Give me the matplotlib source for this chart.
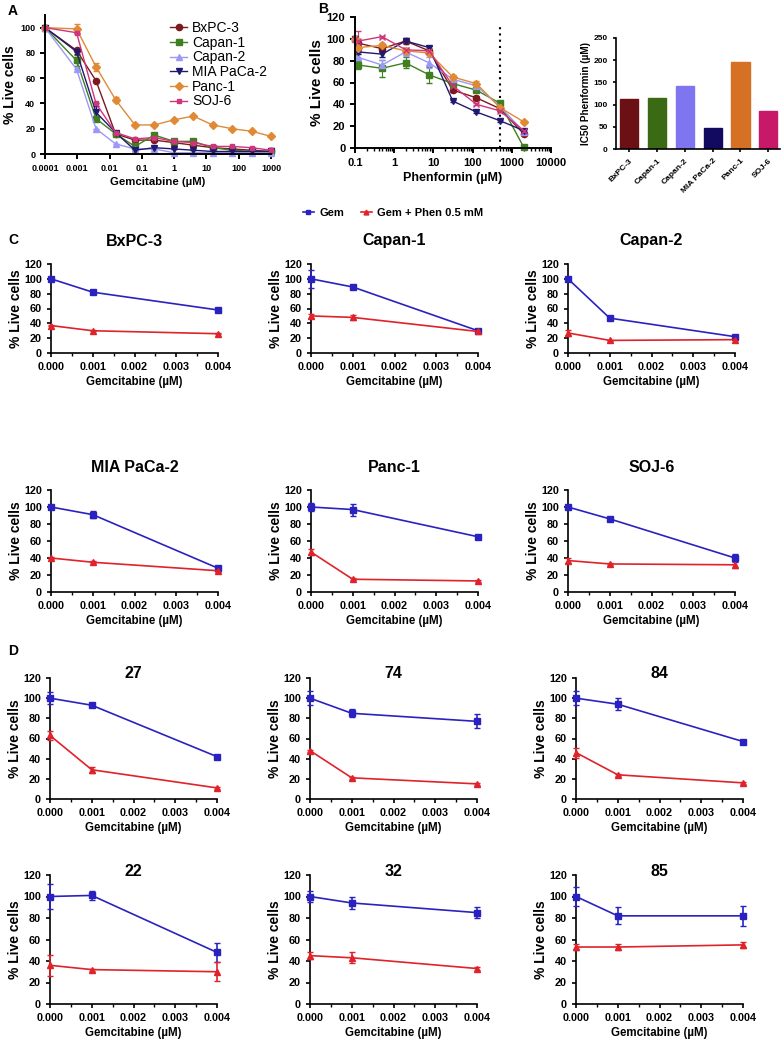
import matplotlib
matplotlib.use("Agg")
import matplotlib.pyplot as plt
import numpy as np
from matplotlib.ticker import FixedLocator, NullFormatter, LogLocator
from matplotlib.lines import Line2D

W, H = 784, 1041
fig = plt.figure(figsize=(W/100, H/100), dpi=100)
plt.rcParams['font.family'] = ['Liberation Sans', 'DejaVu Sans']
NARROW = ['Liberation Sans Narrow', 'Liberation Sans', 'DejaVu Sans']

# ---------------- data ----------------
lines = ["BxPC-3", "Capan-1", "Capan-2", "MIA PaCa-2", "Panc-1", "SOJ-6"]
line_colors = ["#7B1A1E", "#3F7F1F", "#9C98F8", "#1F1A70", "#E08A36", "#D0357B"]
bar_colors = ["#6B1014", "#3A6A14", "#8075F0", "#110A60", "#D57025", "#C8186A"]
markers_a = ["o", "s", "^", "v", "D", "s"]
markers_b = ["o", "s", "^", "v", "D", "x"]

gem_conc_a = [0.0001, 0.00095, 0.0038, 0.0153, 0.061, 0.244, 0.98, 3.9, 15.6, 62.5, 250, 1000]
a_bxpc3 = [100, 82, 58, 16, 11, 11, 9, 7, 5, 4, 3, 2]
a_capan1 = [100, 74, 28, 16, 6, 15, 10, 10, 5, 3, 2, 2]
a_capan2 = [100, 67, 20, 8, 4, 4, 1, 1, 1, 1, 1, 1]
a_mia = [100, 81, 33, 17, 3, 5, 4, 3, 2, 2, 2, 2]
a_panc1 = [100, 99, 69, 43, 23, 23, 27, 30, 23, 20, 18, 14]
a_soj6 = [100, 96, 40, 17, 12, 13, 10, 9, 6, 6, 5, 3]
a_err_capan1 = [0, 4, 2, 1, 1, 1, 1, 1, 0, 0, 0, 0]
a_err_mia = [0, 2, 5, 1, 1, 1, 0, 0, 0, 0, 0, 0]
a_err_panc1 = [0, 4, 3, 2, 1, 0, 0, 0, 0, 0, 0, 0]
a_err_zero = [0] * 12

phen_conc = [0.1, 0.122, 0.49, 1.95, 7.8, 31.25, 125, 500, 2000]
b_bxpc3 = [100, 96, 91, 98, 89, 53, 46, 36, 13]
b_capan1 = [100, 76, 73, 78, 67, 59, 53, 41, 1]
b_capan2 = [100, 83, 76, 88, 78, 63, 57, 38, 15]
b_mia = [100, 88, 86, 98, 92, 43, 33, 25, 16]
b_panc1 = [100, 92, 94, 89, 87, 65, 59, 37, 24]
b_soj6 = [100, 98, 102, 90, 89, 57, 40, 34, 16]
b_err_bxpc3 = [0, 3, 2, 3, 2, 2, 2, 1, 1]
b_err_capan1 = [0, 4, 8, 5, 7, 2, 2, 2, 1]
b_err_capan2 = [0, 4, 5, 4, 5, 2, 2, 2, 1]
b_err_mia = [0, 2, 3, 1, 1, 1, 1, 1, 1]
b_err_panc1 = [0, 4, 2, 2, 2, 2, 2, 2, 1]
b_err_soj6 = [0, 9, 1, 2, 1, 1, 1, 1, 1]

ic50 = [112, 115, 141, 47, 195, 85]

gem_conc_cd = [0.0, 0.001, 0.004]
c_titles = ["BxPC-3", "Capan-1", "Capan-2", "MIA PaCa-2", "Panc-1", "SOJ-6"]
c_gem = [[100, 82, 58], [100, 89, 30], [100, 47, 22], [100, 91, 28], [100, 97, 65], [100, 86, 40]]
c_gem_err = [[1, 1, 1], [12, 1, 3], [3, 3, 1], [1, 4, 2], [5, 7, 1], [1, 1, 5]]
c_phen = [[37, 30, 26], [50, 48, 29], [27, 17, 18], [40, 35, 25], [47, 15, 13], [37, 33, 32]]
c_phen_err = [[1, 1, 1], [3, 3, 1], [4, 1, 1], [1, 1, 1], [4, 1, 1], [3, 1, 4]]

d_titles = ["27", "74", "84", "22", "32", "85"]
d_gem = [[100, 93, 42], [100, 85, 77], [100, 94, 57], [100, 101, 48], [100, 94, 85], [100, 82, 82]]
d_gem_err = [[6, 2, 1], [7, 4, 7], [7, 6, 2], [12, 4, 9], [5, 6, 5], [9, 8, 9]]
d_phen = [[63, 29, 11], [48, 21, 15], [46, 24, 16], [36, 32, 30], [45, 43, 33], [53, 53, 55]]
d_phen_err = [[4, 3, 1], [1, 1, 1], [5, 1, 1], [10, 1, 9], [3, 5, 1], [3, 3, 3]]

GEM_BLUE = "#2A22C0"
PHEN_RED = "#E0222A"


def ax_px(l, t, r, b):
    return fig.add_axes([l/W, 1-b/H, (r-l)/W, (b-t)/H])


def style(ax, lw=1.4):
    for s in ["top", "right"]:
        ax.spines[s].set_visible(False)
    for s in ["left", "bottom"]:
        ax.spines[s].set_linewidth(lw)
    ax.tick_params(width=lw, length=3.5, direction="out")


# ---------------- Panel A ----------------
axA = ax_px(45, 15, 271, 154)
a_vals = [a_bxpc3, a_capan1, a_capan2, a_mia, a_panc1, a_soj6]
a_errs = [a_err_zero, a_err_capan1, a_err_zero, a_err_mia, a_err_panc1, a_err_zero]
handles_a = []
for name, vals, err, col, mk in zip(lines, a_vals, a_errs, line_colors, markers_a):
    ms = 3.5 if name == "SOJ-6" else 4.5
    axA.errorbar(gem_conc_a, vals, yerr=err, color=col, marker=mk, ms=ms, lw=1.0,
                 capsize=2, elinewidth=1.0, clip_on=False)
    handles_a.append(Line2D([], [], color=col, marker=mk, ms=ms, lw=1.0))
axA.set_xscale("log")
axA.set_xlim(0.0001, 1000)
axA.set_ylim(0, 110)
axA.set_yticks([0, 20, 40, 60, 80, 100])
axA.xaxis.set_major_locator(FixedLocator([1e-4, 1e-3, 1e-2, 1e-1, 1, 10, 100, 1000]))
axA.xaxis.set_minor_locator(FixedLocator([]))
axA.set_xticklabels(["0.0001", "0.001", "0.01", "0.1", "1", "10", "100", "1000"])
style(axA)
axA.tick_params(labelsize=6.5)
for lab in axA.get_xticklabels() + axA.get_yticklabels():
    lab.set_fontweight("bold")
axA.set_xlabel("Gemcitabine (µM)", fontsize=8.2, fontweight="bold", labelpad=3)
axA.set_ylabel("% Live cells", fontsize=10, fontweight="bold", labelpad=2)
axA.legend(handles_a, lines, loc="upper left", bbox_to_anchor=((170-45)/226, (154-21)/139),
           frameon=False, fontsize=10, handlelength=1.25, handletextpad=0.35,
           labelspacing=0.05, borderaxespad=0, borderpad=0)
fig.text(8/W, 1-11/H, "A", fontsize=10, fontweight="bold", va="center", ha="left")

# ---------------- Panel B ----------------
axB = ax_px(355, 17, 551, 148)
b_vals = [b_bxpc3, b_capan1, b_capan2, b_mia, b_panc1, b_soj6]
b_errs = [b_err_bxpc3, b_err_capan1, b_err_capan2, b_err_mia, b_err_panc1, b_err_soj6]
for name, vals, err, col, mk in zip(lines, b_vals, b_errs, line_colors, markers_b):
    axB.errorbar(phen_conc, vals, yerr=err, color=col, marker=mk, ms=4.5, lw=1.0,
                 capsize=2, elinewidth=0.8, ecolor=col, clip_on=False, mew=1.0)
axB.axvline(500, ymin=0, ymax=113/120, color="black", ls=(0, (1, 2)), lw=1.5)
axB.set_xscale("log")
axB.set_xlim(0.1, 10000)
axB.set_ylim(0, 120)
axB.set_yticks([0, 20, 40, 60, 80, 100, 120])
axB.xaxis.set_major_locator(FixedLocator([0.1, 1, 10, 100, 1000, 10000]))
axB.xaxis.set_minor_locator(LogLocator(base=10, subs=np.arange(2, 10)))
axB.xaxis.set_minor_formatter(NullFormatter())
axB.set_xticklabels(["0.1", "1", "10", "100", "1000", "10000"])
style(axB)
axB.tick_params(labelsize=8)
axB.tick_params(which="minor", length=2, width=1)
for lab in axB.get_xticklabels() + axB.get_yticklabels():
    lab.set_fontweight("bold")
axB.set_xlabel("Phenformin (µM)", fontsize=9, fontweight="bold", labelpad=3)
axB.set_ylabel("% Live cells", fontsize=11, fontweight="bold", labelpad=2)
fig.text(318/W, 1-9/H, "B", fontsize=10, fontweight="bold", va="center", ha="left")

# ---------------- IC50 bars ----------------
axI = ax_px(616, 38, 780, 149)
axI.bar(range(len(lines)), ic50, width=0.65, color=bar_colors, edgecolor=bar_colors)
axI.set_xlim(-0.47, 5.42)
axI.set_ylim(0, 250)
axI.set_yticks([0, 50, 100, 150, 200, 250])
axI.set_xticks(range(len(lines)))
axI.set_xticklabels(lines, rotation=45, ha="right", rotation_mode="anchor", fontsize=6)
style(axI, lw=1.2)
axI.tick_params(labelsize=6, length=2.5)
for lab in axI.get_xticklabels() + axI.get_yticklabels():
    lab.set_fontweight("bold")
axI.set_ylabel("IC50 Phenformin (µM)", fontsize=7.2, fontweight="bold", labelpad=2)

# ---------------- Legend for C/D ----------------
h1 = Line2D([], [], color=GEM_BLUE, marker="s", ms=3.5, lw=1.2)
h2 = Line2D([], [], color=PHEN_RED, marker="^", ms=3.5, lw=1.2)
fig.legend([h1, h2], ["Gem", "Gem + Phen 0.5 mM"], loc="center", bbox_to_anchor=(393/W, 1-213/H),
           ncol=2, frameon=False, handlelength=1.0, handletextpad=0.5, columnspacing=1.5,
           prop={"family": NARROW, "weight": "bold", "size": 8})


def small_panel(l, t, r, b, title, gem, gem_err, phen, phen_err, title_y):
    ax = ax_px(l, t, r, b)
    ax.errorbar(gem_conc_cd, gem, yerr=gem_err, color=GEM_BLUE, marker="s", ms=4, lw=1.2,
                capsize=2, elinewidth=1.2, clip_on=False, zorder=3)
    ax.errorbar(gem_conc_cd, phen, yerr=phen_err, color=PHEN_RED, marker="^", ms=4, lw=1.2,
                capsize=2, elinewidth=1.2, clip_on=False, zorder=3)
    ax.set_xlim(0, 0.004)
    ax.set_ylim(0, 120)
    ax.set_yticks([0, 20, 40, 60, 80, 100, 120])
    ax.set_xticks([0.0, 0.001, 0.002, 0.003, 0.004])
    ax.xaxis.set_minor_locator(FixedLocator([0.0005, 0.0015, 0.0025, 0.0035]))
    ax.set_xticklabels(["0.000", "0.001", "0.002", "0.003", "0.004"])
    style(ax, lw=1.2)
    ax.tick_params(length=3)
    ax.tick_params(which="minor", length=2, width=1)
    for lab in ax.get_xticklabels() + ax.get_yticklabels():
        lab.set_fontfamily(NARROW)
        lab.set_fontweight("bold")
        lab.set_fontsize(7.8)
    ax.set_xlabel("Gemcitabine (µM)", fontsize=8.3, fontweight="bold", labelpad=3)
    ax.set_ylabel("% Live cells", fontsize=10, fontweight="bold", labelpad=1)
    fig.text((l + r) / 2 / W, 1 - title_y / H, title, ha="center", va="center",
             fontsize=11.5, fontweight="bold", family=NARROW)
    return ax


c_cols = [51, 311, 568]
d_cols = [50, 310, 576]
c_rows = [(264, 353, 241), (490, 592, 468)]
d_rows = [(678, 799, 673), (875, 1004, 872)]
PW = 167
for i in range(6):
    r, c = divmod(i, 3)
    t, b, ty = c_rows[r]
    small_panel(c_cols[c], t, c_cols[c] + PW, b, c_titles[i], c_gem[i], c_gem_err[i],
                c_phen[i], c_phen_err[i], ty)
for i in range(6):
    r, c = divmod(i, 3)
    t, b, ty = d_rows[r]
    small_panel(d_cols[c], t, d_cols[c] + PW, b, d_titles[i], d_gem[i], d_gem_err[i],
                d_phen[i], d_phen_err[i], ty)

fig.text(8/W, 1-240/H, "C", fontsize=10, fontweight="bold", va="center", ha="left")
fig.text(8/W, 1-651/H, "D", fontsize=10, fontweight="bold", va="center", ha="left")

fig.savefig("out.png", dpi=100)
